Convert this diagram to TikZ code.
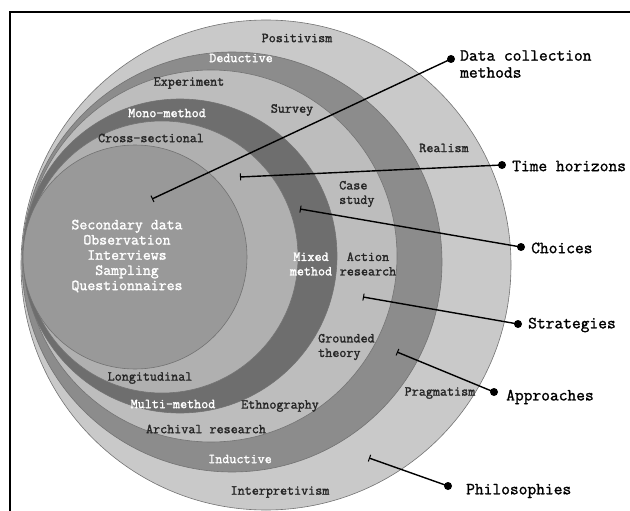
\documentclass[tikz,border=0pt]{standalone}
\usepackage{fontspec}
\newfontfamily\onionfont[FakeBold=1.6]{Latin Modern Mono}
\newfontfamily\tagfont[FakeBold=1.4]{Latin Modern Mono}
\usetikzlibrary{arrows.meta}
\definecolor{philo}{gray}{0.79}
\definecolor{appro}{gray}{0.55}
\definecolor{strat}{gray}{0.74}
\definecolor{choic}{gray}{0.43}
\definecolor{timeh}{gray}{0.69}
\definecolor{datac}{gray}{0.60}
\tikzset{
  layer/.style={draw=black!55, line width=0.6pt},
  lbl/.style={font=\onionfont\fontsize{13.7}{14.5}\selectfont, text=black!85, inner sep=0pt},
  wlbl/.style={lbl, text=white},
  tag/.style={font=\tagfont\fontsize{17}{17}\selectfont, anchor=west, inner sep=0pt, align=left},
  dot/.style={circle, fill=black, inner sep=0pt, minimum size=8pt},
  pointer/.style={line width=1.4pt, {Bar[width=7pt,line width=1pt]}-},
}
\begin{document}
\begin{tikzpicture}[x=1pt,y=-1pt]
\useasboundingbox (0,0) rectangle (630,511);
\begin{scope}
\clip (0,0) rectangle (630,511);
\draw[line width=2pt] (10,12) rectangle (650,530);
\end{scope}

% nested layers of the onion
\fill[philo, layer] (266,265) circle (245);
\fill[appro, layer] (232,262) circle (210);
\fill[strat, layer] (211,256) circle (186);
\fill[choic, layer] (180,256) circle (157);
\fill[timeh, layer] (162,257) circle (136);
\fill[datac, layer] (135,257) circle (112);

% layer labels
\node[lbl]  (positivism) at (297,38)  {Positivism};
\node[wlbl] (deductive)  at (241,58)  {Deductive};
\node[lbl]  (experiment) at (189,83)  {Experiment};
\node[lbl]  (survey)     at (292,110) {Survey};
\node[wlbl] (mono)       at (167,113) {Mono-method};
\node[lbl]  (cross)      at (151,138) {Cross-sectional};
\node[lbl]  (realism)    at (444,148) {Realism};
\node[lbl, align=left, anchor=west] (casestudy) at (339,194) {Case\\study};
\node[wlbl, align=center] (mixed)  at (311,264) {Mixed\\method};
\node[lbl, align=center]  (action) at (368,264) {Action\\research};
\node[lbl, align=left, anchor=west] (grounded) at (318,347) {Grounded\\theory};
\node[lbl]  (pragmatism) at (440,393) {Pragmatism};
\node[lbl]  (ethno)      at (280,406) {Ethnography};
\node[lbl]  (longi)      at (150,378) {Longitudinal};
\node[wlbl] (multi)      at (173,404) {Multi-method};
\node[lbl]  (archival)   at (206,429) {Archival research};
\node[wlbl] (inductive)  at (240,459) {Inductive};
\node[lbl]  (interp)     at (280,492) {Interpretivism};
\node[wlbl, align=center, font=\onionfont\fontsize{15.4}{15.2}\selectfont] (methods) at (127,256)
  {Secondary data\\Observation\\Interviews\\Sampling\\Questionnaires};

% pointer ends inside the layers
\coordinate (pData)  at (152,199);
\coordinate (pTime)  at (240,177);
\coordinate (pChoi)  at (300,209);
\coordinate (pStrat) at (363,297);
\coordinate (pAppr)  at (397,352);
\coordinate (pPhil)  at (369,458);

% dots and their captions
\node[dot] (dData)  at (451,59)  {};
\node[dot] (dTime)  at (502,165) {};
\node[dot] (dChoi)  at (521,247) {};
\node[dot] (dStrat) at (518,324) {};
\node[dot] (dAppr)  at (494,392) {};
\node[dot] (dPhil)  at (448,486) {};

\node[tag] (tData)  at (460,64)  {Data collection\\methods};
\node[tag] (tTime)  at (512,166) {Time horizons};
\node[tag] (tChoi)  at (531,248) {Choices};
\node[tag] (tStrat) at (528,325) {Strategies};
\node[tag] (tAppr)  at (506,397) {Approaches};
\node[tag] (tPhil)  at (466,491) {Philosophies};

\draw[pointer] (pData)  -- (dData.center);
\draw[pointer] (pTime)  -- (dTime.center);
\draw[pointer] (pChoi)  -- (dChoi.center);
\draw[pointer] (pStrat) -- (dStrat.center);
\draw[pointer] (pAppr)  -- (dAppr.center);
\draw[pointer] (pPhil)  -- (dPhil.center);
\end{tikzpicture}
\end{document}
